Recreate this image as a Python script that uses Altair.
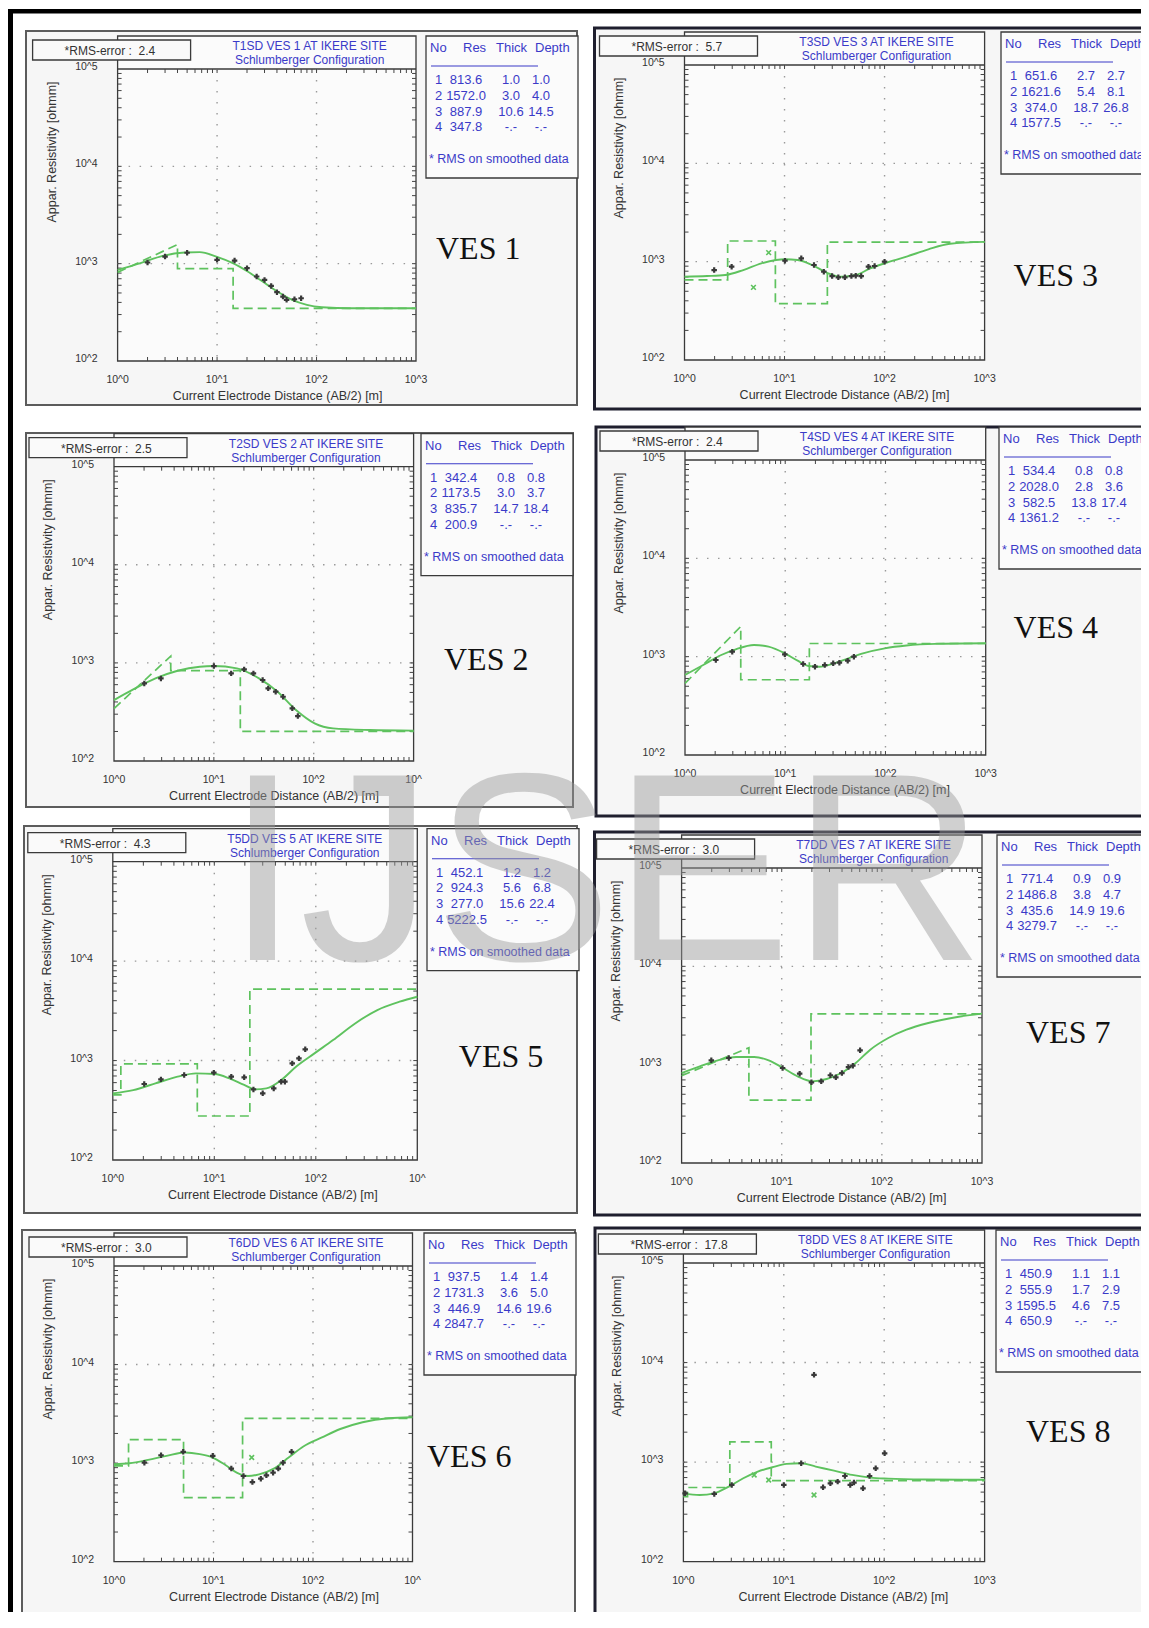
import altair as alt
import pandas as pd

# ---------------- values ----------------
site_titles = {
    1: "T1SD VES 1 AT IKERE SITE", 2: "T2SD VES 2 AT IKERE SITE",
    3: "T3SD VES 3 AT IKERE SITE", 4: "T4SD VES 4 AT IKERE SITE",
    5: "T5DD VES 5 AT IKERE SITE", 6: "T6DD VES 6 AT IKERE SITE",
    7: "T7DD VES 7 AT IKERE SITE", 8: "T8DD VES 8 AT IKERE SITE",
}
rms_error = {1: "2.4", 2: "2.5", 3: "5.7", 4: "2.4", 5: "4.3", 6: "3.0", 7: "3.0", 8: "17.8"}

layer_res = {
    1: [813.6, 1572.0, 887.9, 347.8], 2: [342.4, 1173.5, 835.7, 200.9],
    3: [651.6, 1621.6, 374.0, 1577.5], 4: [534.4, 2028.0, 582.5, 1361.2],
    5: [452.1, 924.3, 277.0, 5222.5], 6: [937.5, 1731.3, 446.9, 2847.7],
    7: [771.4, 1486.8, 435.6, 3279.7], 8: [450.9, 555.9, 1595.5, 650.9],
}
layer_thick = {
    1: [1.0, 3.0, 10.6], 2: [0.8, 3.0, 14.7], 3: [2.7, 5.4, 18.7], 4: [0.8, 2.8, 13.8],
    5: [1.2, 5.6, 15.6], 6: [1.4, 3.6, 14.6], 7: [0.9, 3.8, 14.9], 8: [1.1, 1.7, 4.6],
}
layer_depth = {
    1: [1.0, 4.0, 14.5], 2: [0.8, 3.7, 18.4], 3: [2.7, 8.1, 26.8], 4: [0.8, 3.6, 17.4],
    5: [1.2, 6.8, 22.4], 6: [1.4, 5.0, 19.6], 7: [0.9, 4.7, 19.6], 8: [1.1, 2.9, 7.5],
}

model_x = {
    1: [1, 1.70, 2.84, 4.75, 6.69, 9.83, 14.4, 20.3, 28.7, 40.4, 56.9, 80, 113, 224, 1000],
    2: [1, 1.56, 2.60, 4.34, 7.23, 10.0, 17.0, 28.3, 43.4, 66.4, 102, 156, 366, 1000],
    3: [1, 1.68, 2.55, 3.87, 5.87, 8.2, 10.1, 13.5, 18.9, 26.4, 36.9, 51.5, 72, 100, 166, 274, 452, 1000],
    4: [1, 1.52, 2.30, 3.21, 4.88, 6.81, 9.9, 13.3, 17.1, 21.9, 30.6, 42.7, 59.6, 98.4, 162, 316, 1000],
    5: [1, 1.59, 2.63, 4.35, 6.61, 10.1, 14.1, 19.7, 25.3, 32.6, 45.6, 63.8, 97, 148, 244, 404, 669, 1000],
    6: [1, 1.43, 2.20, 3.37, 5.17, 7.28, 9.83, 13.3, 17.1, 22.2, 28.7, 40.4, 56.9, 80, 123, 188, 315, 573, 1000],
    7: [1, 1.52, 2.30, 3.50, 5.31, 7.41, 10.3, 14.4, 20.1, 28.1, 39.3, 54.8, 76.6, 116, 176, 291, 567, 1000],
    8: [1, 1.45, 2.03, 2.83, 3.95, 5.51, 7.68, 10.7, 14.9, 20.8, 31.6, 47.9, 72.6, 110, 253, 1000],
}
model_y = {
    1: [863, 1012, 1202, 1302, 1313, 1184, 1012, 830, 655, 517, 424, 377, 357, 348, 348],
    2: [418, 537, 695, 832, 914, 929, 880, 695, 509, 331, 242, 215, 207, 204],
    3: [703, 714, 731, 822, 962, 1040, 1057, 1040, 925, 773, 703, 731, 855, 962, 1125, 1334, 1520, 1590],
    4: [652, 823, 1040, 1188, 1315, 1265, 1081, 910, 804, 791, 855, 962, 1081, 1216, 1300, 1350, 1370],
    5: [468, 505, 590, 689, 744, 732, 662, 568, 513, 525, 637, 867, 1181, 1607, 2364, 3221, 3907, 4388],
    6: [973, 997, 1079, 1186, 1282, 1233, 1140, 951, 800, 740, 769, 879, 1140, 1476, 1825, 2220, 2600, 2857, 2925],
    7: [822, 962, 1107, 1197, 1197, 1107, 925, 760, 677, 715, 822, 1040, 1421, 1868, 2268, 2653, 3054, 3303],
    8: [486, 468, 486, 568, 689, 804, 888, 960, 975, 902, 822, 744, 699, 683, 670, 665],
}

obs_x = {
    1: [2.0, 3.0, 5.0, 10, 15, 20, 25, 30, 35, 40, 46, 50, 60, 70],
    2: [2.01, 2.95, 10, 14.9, 20.1, 24.9, 30.8, 35, 41.6, 49.3, 61, 69.3],
    3: [1.98, 2.96, 10.1, 14.7, 19.7, 24.7, 29.9, 34.5, 40.1, 46.6, 51.5, 58.4, 69, 79.5, 100],
    4: [2.03, 2.96, 9.9, 15.1, 19.8, 24.8, 30.1, 34.7, 42, 48.4],
    5: [2.04, 2.98, 5.05, 9.89, 14.7, 19.7, 24.3, 30, 38.5, 45.6, 49.6, 58.6, 68.2, 78.7],
    6: [2.02, 2.97, 4.96, 9.83, 15.1, 20, 24.6, 29.9, 34, 39.7, 44.8, 50, 60.9],
    7: [1.98, 2.96, 10.2, 15.1, 19.8, 24.8, 30.6, 34.7, 39.9, 46.4, 51.3, 60.6],
    8: [1.04, 2.03, 3.03, 10, 14.9, 20, 24.6, 29.1, 34.4, 40.6, 45.9, 50, 61.5, 71.5, 82.3, 101],
}
obs_y = {
    1: [1028, 1183, 1295, 1094, 1077, 898, 738, 681, 591, 509, 459, 425, 431, 441],
    2: [618, 695, 929, 782, 859, 782, 669, 550, 509, 452, 344, 287],
    3: [822, 889, 1024, 1081, 925, 791, 714, 693, 693, 714, 721, 714, 889, 903, 1000],
    4: [925, 1125, 1057, 842, 791, 822, 855, 869, 910, 1000],
    5: [581, 647, 716, 756, 689, 678, 513, 468, 525, 613, 613, 937, 1052, 1297],
    6: [1011, 1203, 1302, 1186, 880, 740, 643, 695, 752, 800, 880, 1011, 1302],
    7: [1107, 1169, 925, 809, 661, 677, 780, 744, 822, 946, 977, 1400],
    8: [486, 479, 590, 590, 975, 7534, 558, 613, 637, 726, 590, 623, 546, 726, 867, 1227],
}

flag_x = {3: [6.94, 4.89], 6: [24.2], 8: [20, 7.07, 5.07]}
flag_y = {3: [1236, 548], 6: [1140], 8: [468, 662, 743]}

decade_x = [1, 10, 100, 1000]
decade_y = [100, 1000, 10000, 100000]
x_tick_text = ["10^0", "10^1", "10^2", "10^3"]
y_tick_text = ["10^2", "10^3", "10^4", "10^5"]
grid_x = [10, 100]
grid_y = [1000, 10000]
tick_x = [2, 3, 4, 5, 6, 7, 8, 9, 10, 20, 30, 40, 50, 60, 70, 80, 90, 100,
          200, 300, 400, 500, 600, 700, 800, 900]
tick_y = [200, 300, 400, 500, 600, 700, 800, 900, 1000, 2000, 3000, 4000, 5000, 6000, 7000,
          8000, 9000, 10000, 20000, 30000, 40000, 50000, 60000, 70000, 80000, 90000]
table_head = ["No", "Res", "Thick", "Depth"]

# ---------------- layout (page pixels) ----------------
panels_geo = [
    dict(ves=1, frame=(26, 31, 577, 405), plot=(117.6, 416, 69, 361), tbl=426, lab=(436, 259), right=False, last="10^3"),
    dict(ves=3, frame=(594.5, 28, 1165, 409), plot=(684.5, 984.6, 65, 360), tbl=1001, lab=(1013.6, 286), right=True, last="10^3"),
    dict(ves=2, frame=(26, 433, 573, 807), plot=(114, 413.6, 466.7, 761), tbl=421, lab=(444, 670), right=False, last="10^"),
    dict(ves=4, frame=(596, 427, 1165, 816), plot=(685, 985.7, 460, 755), tbl=999, lab=(1013.6, 638), right=True, last="10^3"),
    dict(ves=5, frame=(24, 826, 577, 1213), plot=(112.8, 417.3, 861.7, 1160), tbl=427, lab=(458.8, 1067), right=False, last="10^"),
    dict(ves=7, frame=(594.5, 832, 1165, 1215), plot=(681.6, 982, 868, 1163), tbl=997, lab=(1026, 1043), right=True, last="10^3"),
    dict(ves=6, frame=(22, 1230, 575, 1613), plot=(114, 412.5, 1266, 1561.7), tbl=424, lab=(427, 1467), right=False, last="10^"),
    dict(ves=8, frame=(595, 1228, 1165, 1616), plot=(683.4, 984.6, 1263, 1561.7), tbl=996, lab=(1026, 1442), right=True, last="10^3"),
]

SANS = "Liberation Sans"
SERIF = "Liberation Serif"
GREEN = "#5ec25e"
BLUE = "#3a3ac8"
INK = "#333333"
M = 8
W, H = 1133, 1604
ONE = pd.DataFrame({"k": [0]})


def P(v):
    return v - M


def rect(x0, y0, x1, y1, fill, stroke, sw):
    return alt.Chart(ONE).mark_rect(fill=fill, stroke=stroke, strokeWidth=sw).encode(
        x=alt.value(P(x0)), x2=alt.value(P(x1)), y=alt.value(P(y0)), y2=alt.value(P(y1)))


def seg(x0, y0, x1, y1, color, sw):
    return alt.Chart(ONE).mark_rule(color=color, strokeWidth=sw).encode(
        x=alt.value(P(x0)), x2=alt.value(P(x1)), y=alt.value(P(y0)), y2=alt.value(P(y1)))


def txt(x, y, s, size, color=INK, font=SANS, align="left", baseline="alphabetic", **kw):
    return alt.Chart(ONE).mark_text(text=s, fontSize=size, color=color, font=font,
                                    align=align, baseline=baseline, **kw).encode(
        x=alt.value(P(x)), y=alt.value(P(y)))


def step_path(res, depth, x_start=1.0, x_end=1000.0):
    sx, sy = [x_start], [res[0]]
    for k, d in enumerate(depth):
        if d <= x_start:
            continue
        sx += [d, d]
        sy += [res[k], res[k + 1]]
    sx.append(x_end)
    sy.append(res[-1])
    return sx, sy


def panel(g):
    v = g["ves"]
    fx0, fy0, fx1, fy1 = g["frame"]
    L, R, T, B = g["plot"]
    BL = g["tbl"]
    xs = alt.Scale(type="log", domain=[1, 1000], range=[P(L), P(R)], nice=False)
    ys = alt.Scale(type="log", domain=[100, 100000], range=[P(B), P(T)], nice=False)

    def X(f):
        return alt.X(f, type="quantitative", scale=xs, axis=None)

    def Y(f):
        return alt.Y(f, type="quantitative", scale=ys, axis=None)

    lay = []
    if g["right"]:
        lay.append(rect(fx0, fy0, fx1, fy1, "#f6f6f6", "#1f1f2e", 3))
    else:
        lay.append(rect(fx0, fy0, fx1, fy1, "#f6f6f6", "#5c5c5c", 2))
    lay.append(rect(L, T - 33, R, B, "#fbfbfb", "#3a3a3a", 1.3))
    lay.append(seg(L, T, R, T, "#3a3a3a", 1.3))

    # dotted grid
    lay.append(alt.Chart(pd.DataFrame({"g": grid_x})).mark_rule(
        color="#9a9a9a", strokeWidth=1.4, strokeDash=[1.5, 9.5]).encode(
        x=X("g"), y=alt.value(P(T)), y2=alt.value(P(B))))
    lay.append(alt.Chart(pd.DataFrame({"g": grid_y})).mark_rule(
        color="#9a9a9a", strokeWidth=1.4, strokeDash=[1.5, 9.5]).encode(
        y=Y("g"), x=alt.value(P(L)), x2=alt.value(P(R))))

    # ticks on all four sides
    tx = pd.DataFrame({"t": tick_x})
    ty = pd.DataFrame({"t": tick_y})
    tk = dict(color="#444444", strokeWidth=1)
    lay.append(alt.Chart(tx).mark_rule(**tk).encode(x=X("t"), y=alt.value(P(B)), y2=alt.value(P(B) - 4)))
    lay.append(alt.Chart(tx).mark_rule(**tk).encode(x=X("t"), y=alt.value(P(T)), y2=alt.value(P(T) + 4)))
    lay.append(alt.Chart(ty).mark_rule(**tk).encode(y=Y("t"), x=alt.value(P(L)), x2=alt.value(P(L) + 4)))
    lay.append(alt.Chart(ty).mark_rule(**tk).encode(y=Y("t"), x=alt.value(P(R) - 4), x2=alt.value(P(R))))

    # tick labels
    xl = pd.DataFrame({"t": decade_x, "s": x_tick_text[:3] + [g["last"]]})
    lay.append(alt.Chart(xl).mark_text(fontSize=10.5, font=SANS, color=INK, align="center",
                                       baseline="alphabetic").encode(
        x=X("t"), y=alt.value(P(B + 22)), text="s:N"))
    yl = pd.DataFrame({"t": decade_y, "s": y_tick_text})
    lay.append(alt.Chart(yl).mark_text(fontSize=10.5, font=SANS, color=INK, align="right",
                                       baseline="middle", dy=-2).encode(
        y=Y("t"), x=alt.value(P(L - 20)), text="s:N"))

    # axis titles
    lay.append(txt(L + 160, B + 39, "Current Electrode Distance (AB/2) [m]", 12.5, align="center"))
    lay.append(txt(L - 66, T + 83, "Appar. Resistivity [ohmm]", 12.5, align="center",
                   baseline="middle", angle=270))

    # model and data
    sx, sy = step_path(layer_res[v], layer_depth[v])
    lay.append(alt.Chart(pd.DataFrame({"x": sx, "y": sy, "i": list(range(len(sx)))})).mark_line(
        color=GREEN, strokeWidth=1.7, strokeDash=[9, 5]).encode(x=X("x"), y=Y("y"), order="i:Q"))
    mx, my = model_x[v], model_y[v]
    lay.append(alt.Chart(pd.DataFrame({"x": mx, "y": my, "i": list(range(len(mx)))})).mark_line(
        color=GREEN, strokeWidth=1.9, interpolate="monotone").encode(x=X("x"), y=Y("y"), order="i:Q"))
    if v in flag_x:
        lay.append(alt.Chart(pd.DataFrame({"x": flag_x[v], "y": flag_y[v]})).mark_point(
            shape="M -1 -1 L 1 1 M 1 -1 L -1 1", filled=False, strokeWidth=1.6, size=22,
            color=GREEN, opacity=1).encode(x=X("x"), y=Y("y")))
    lay.append(alt.Chart(pd.DataFrame({"x": obs_x[v], "y": obs_y[v]})).mark_point(
        shape="cross", filled=True, size=30, color="#383838", opacity=1).encode(x=X("x"), y=Y("y")))

    # RMS box and title
    lay.append(rect(L - 85, T - 29, L + 73, T - 9, "#fafafa", "#3a3a3a", 1.3))
    lay.append(txt(L - 53, T - 14, "*RMS-error :\u00a0 " + rms_error[v], 12))
    lay.append(txt(L + 192, T - 19, site_titles[v], 12, color=BLUE, align="center"))
    lay.append(txt(L + 192, T - 5, "Schlumberger Configuration", 12, color=BLUE, align="center"))

    # layer table
    lay.append(rect(BL, T - 33, BL + 152, T + 109, "#fbfbfb", "#3a3a3a", 1.3))
    for s, dx in zip(table_head, [4, 37, 70, 109]):
        lay.append(txt(BL + dx, T - 17, s, 13, color=BLUE))
    lay.append(seg(BL + 5, T - 3, BL + 112, T - 3, BLUE, 1.1))
    nums = [str(k + 1) for k in range(4)]
    res_s = [f"{r:.1f}" for r in layer_res[v]]
    th_s = [f"{t:.1f}" for t in layer_thick[v]] + ["-.-"]
    de_s = [f"{d:.1f}" for d in layer_depth[v]] + ["-.-"]
    for lines, dx, al in [(nums, 9, "left"), (res_s, 40, "center"), (th_s, 85, "center"), (de_s, 115, "center")]:
        lay.append(txt(BL + dx, T + 5, lines, 13, color=BLUE, align=al, baseline="top", lineHeight=15.8))
    lay.append(txt(BL + 3, T + 94, "* RMS on smoothed data", 12.5, color=BLUE))

    # VES label
    lx, ly = g["lab"]
    lay.append(txt(lx, ly, f"VES {v}", 32, color="#111111", font=SERIF))
    return alt.layer(*lay)


bg = [
    rect(8, 9, 1160, 13.5, "#000000", "#000000", 0),
    rect(8, 9, 13, 1640, "#000000", "#000000", 0),
]
fg = [txt(605, 960, "IJSER", 268, color="#999999", align="center", opacity=0.45)]

chart = alt.layer(*bg, *[panel(g) for g in panels_geo], *fg).resolve_scale(
    x="independent", y="independent"
).properties(
    width=W, height=H, padding=0, autosize=alt.AutoSizeParams(type="none"), background="white"
).configure_view(strokeWidth=0)

chart.save("out.html", embed_options={"renderer": "svg", "actions": False})
